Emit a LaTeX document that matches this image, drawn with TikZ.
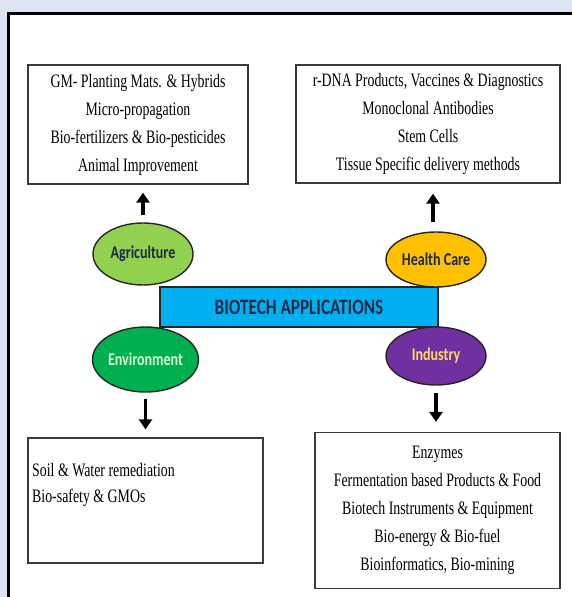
\documentclass[tikz,border=0pt]{standalone}
\usepackage{fontspec}
\setmainfont{Liberation Serif}[FakeStretch=0.73]
\newfontfamily\calib{Carlito}[FakeStretch=0.78]
\usetikzlibrary{shapes.geometric,arrows.meta}
\definecolor{bgblue}{HTML}{DBE5F1}
\definecolor{agrigreen}{HTML}{92D050}
\definecolor{envgreen}{HTML}{00B050}
\definecolor{healthorange}{HTML}{FFC000}
\definecolor{indpurple}{HTML}{7030A0}
\definecolor{appblue}{HTML}{00B0F0}
\definecolor{navytext}{HTML}{1C2A45}
\definecolor{envtext}{HTML}{D8FFD0}
\definecolor{indtext}{HTML}{FFD966}
\definecolor{boxline}{HTML}{3A3A3A}
\tikzset{
  listbox/.style={draw=boxline, line width=1.3pt, fill=white, inner sep=0pt,
    font=\fontsize{19}{28}\selectfont, align=center},
  appell/.style={ellipse, draw=black!85, line width=1.4pt, inner sep=0pt,
    font=\calib\bfseries\fontsize{18}{20}\selectfont},
  uparr/.style={line width=3.8pt, -{Triangle[width=13pt,length=10pt]}},
}
\begin{document}
\begin{tikzpicture}[x=1pt,y=-1pt]
\useasboundingbox (0,0) rectangle (572,597);
\fill[bgblue] (0,0) rectangle (572,597);
\draw[line width=3pt, fill=white] (8.5,13.5) rectangle (590,610);

% list boxes
\node[listbox, minimum width=220pt, minimum height=119pt] (tl) at (138,124.5)
  {GM- Planting Mats. \& Hybrids\\Micro-propagation\\Bio-fertilizers \& Bio-pesticides\\Animal Improvement};
\node[listbox, minimum width=264pt, minimum height=118pt] (tr) at (428,124)
  {r-DNA Products, Vaccines \& Diagnostics\\Monoclonal Antibodies\\Stem Cells\\Tissue Specific delivery methods};
\node[listbox, minimum width=235pt, minimum height=125pt] (bl) at (145.5,500.5) {};
\node[anchor=west, inner sep=0pt, align=left, font=\fontsize{19}{26}\selectfont] (bltext) at (32,485)
  {Soil \& Water remediation\\Bio-safety \& GMOs};
\node[listbox, minimum width=245pt, minimum height=156pt] (br) at (437.5,510.5)
  {Enzymes\\Fermentation based Products \& Food\\Biotech Instruments \& Equipment\\Bio-energy \& Bio-fuel\\Bioinformatics, Bio-mining};

% central bar
\node[draw=black!85, line width=1.4pt, fill=appblue, minimum width=278pt, minimum height=40pt,
  inner sep=0pt, text=navytext, font=\calib\bfseries\fontsize{22}{24}\selectfont] (app) at (299,307)
  {BIOTECH APPLICATIONS};

% ellipses
\node[appell, fill=agrigreen, text=navytext, minimum width=100pt, minimum height=62pt] (agri) at (143,254) {Agriculture};
\node[appell, fill=healthorange, text=navytext, minimum width=100pt, minimum height=55pt] (health) at (436,259.5) {Health Care};
\node[appell, fill=envgreen, text=envtext, minimum width=105pt, minimum height=65pt] (env) at (145.5,359.5) {Environment};
\node[appell, fill=indpurple, text=indtext, minimum width=100pt, minimum height=58pt] (ind) at (436,356) {Industry};

% arrows
\draw[uparr, shorten <=7pt, shorten >=8pt] (agri.north) -- (agri.north |- tl.south);
\draw[uparr, shorten <=9pt, shorten >=10pt] ([xshift=-3pt]health.north) -- ([xshift=-3pt]health.north |- tr.south);
\draw[uparr, shorten <=6pt, shorten >=8pt] (env.south) -- (env.south |- bl.north);
\draw[uparr, shorten <=7pt, shorten >=10pt] (ind.south) -- (ind.south |- br.north);
\end{tikzpicture}
\end{document}
